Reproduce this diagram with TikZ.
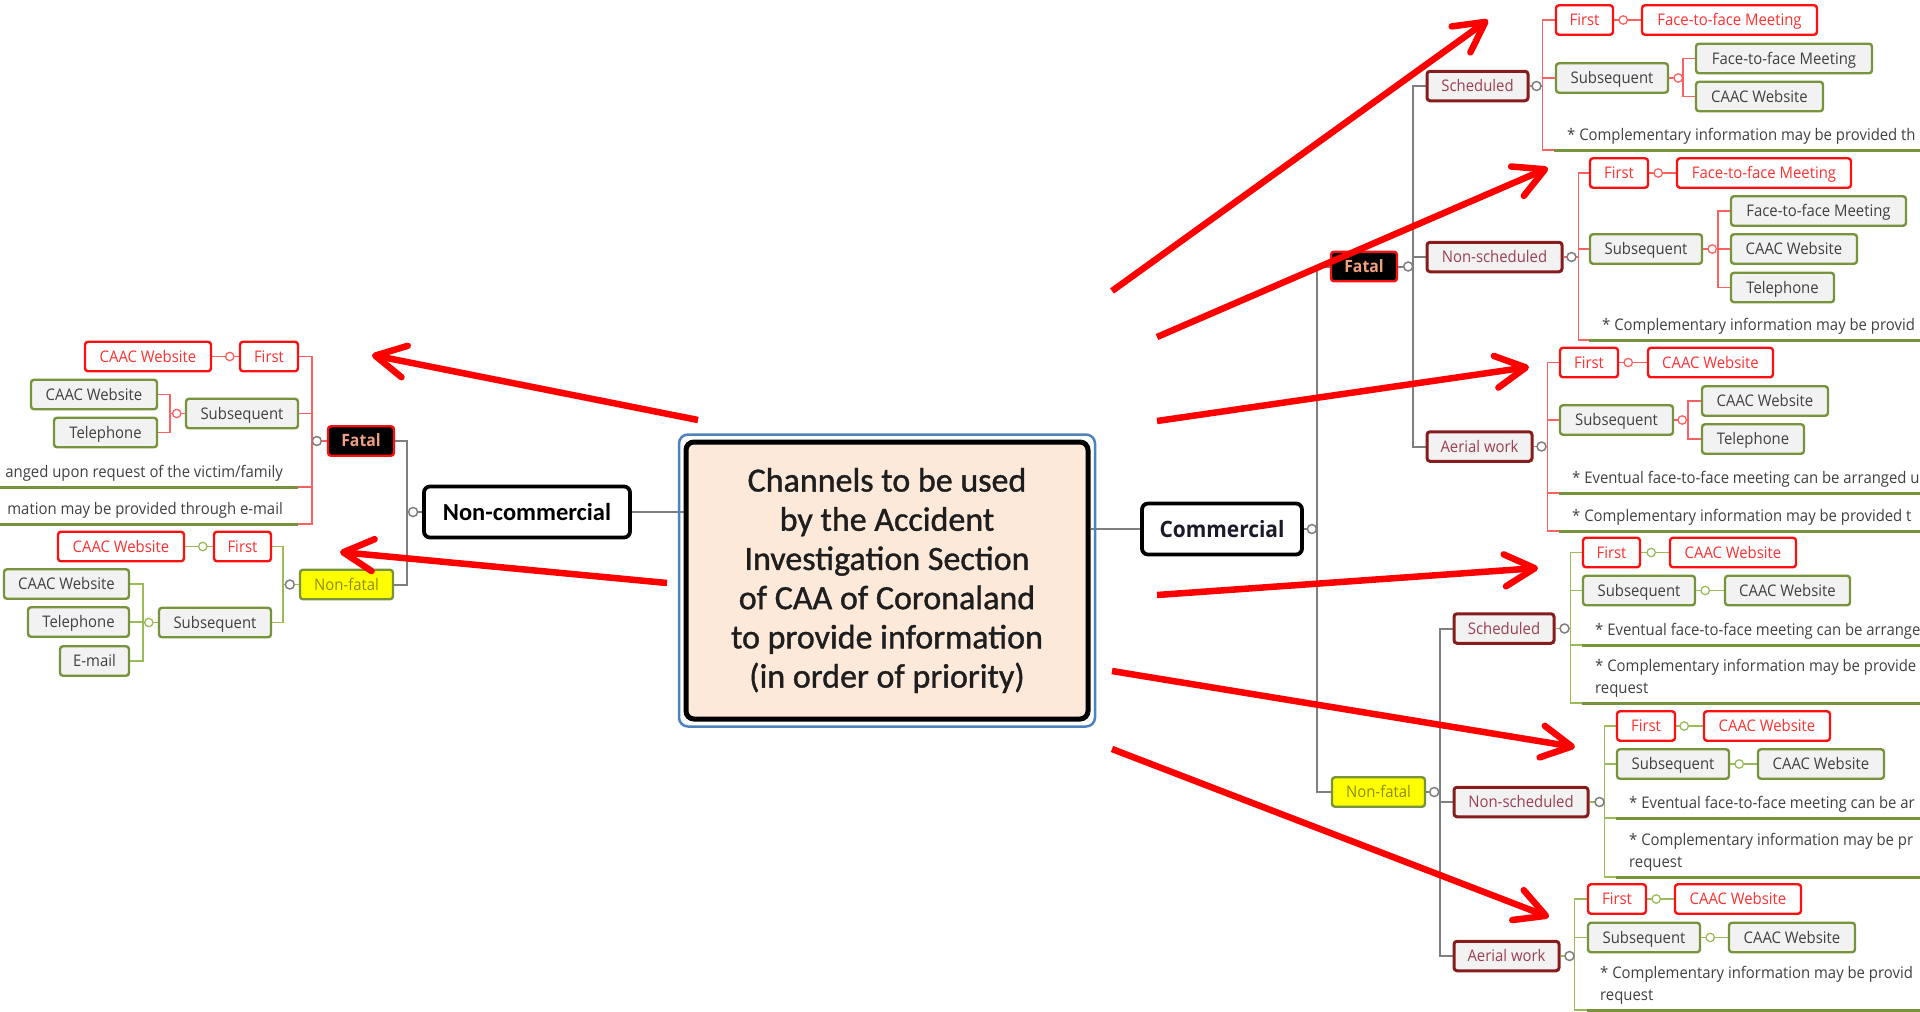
\documentclass[tikz,border=0pt]{standalone}
\usepackage{fontspec}
\setmainfont{Carlito}
\newfontfamily\mainf[FakeBold=1.1]{Carlito}
\newfontfamily\lab[FakeStretch=0.93]{Open Sans}
\usetikzlibrary{arrows.meta}
\definecolor{boxred}{HTML}{FF1010}
\definecolor{txtred}{HTML}{FF3030}
\definecolor{boxgrn}{HTML}{77933C}
\definecolor{boxfill}{HTML}{F2F2F2}
\definecolor{txtgray}{HTML}{404040}
\definecolor{boxbrn}{HTML}{861C1C}
\definecolor{txtbrn}{HTML}{9A3F50}
\definecolor{fataltxt}{HTML}{F0A080}
\definecolor{nftxt}{HTML}{8C8C00}
\definecolor{nffill}{HTML}{FFFF00}
\definecolor{linegray}{HTML}{7F7F7F}
\definecolor{linered}{HTML}{FF6060}
\definecolor{linegrn}{HTML}{9BBB59}
\definecolor{arrred}{HTML}{FF0000}
\definecolor{peach}{HTML}{FDE9D9}
\definecolor{mainblue}{HTML}{4F81BD}
\definecolor{maintxt}{HTML}{1E1E1E}
\definecolor{commtxt}{HTML}{1A1A2A}
\pgfdeclarelayer{bg}
\pgfsetlayers{bg,main}
\tikzset{
 box/.style={rounded corners=3pt, line width=2.4pt, minimum height=29.5pt, inner sep=0pt,
   text height=12pt, text depth=1pt, font=\lab\fontsize{16}{18}\selectfont},
 redbox/.style={box, draw=boxred, fill=white, text=txtred},
 grnbox/.style={box, draw=boxgrn, fill=boxfill, text=txtgray},
 brnbox/.style={box, draw=boxbrn, fill=boxfill, text=txtbrn, line width=3pt},
 fatalbox/.style={box, draw=boxred, fill=black, text=fataltxt, font=\lab\bfseries\fontsize{17}{19}\selectfont},
 nfbox/.style={box, draw=boxgrn, fill=nffill, text=nftxt},
 bigbox/.style={rounded corners=6pt, line width=3.8pt, draw=black, fill=white, minimum height=51pt, inner sep=0pt, text height=16pt, text depth=0pt},
 note/.style={inner xsep=13pt, inner ysep=5.5pt, text height=12pt, text depth=4pt, text=txtgray, font=\lab\fontsize{16}{22}\selectfont},
 notetwo/.style={inner xsep=13pt, inner ysep=5.5pt, text=txtgray, font=\lab\fontsize{16}{22}\selectfont, align=left},
 gline/.style={draw=linegray, line width=2pt},
 rline/.style={draw=linered, line width=1.8pt},
 nline/.style={draw=linegrn, line width=1.8pt},
 uline/.style={draw=boxgrn, line width=3pt},
 circg/.style={draw=linegray, fill=white, line width=1.5pt},
 circr/.style={draw=linered, fill=white, line width=1.3pt},
 circn/.style={draw=linegrn, fill=white, line width=1.3pt},
 bigarrow/.style={draw=arrred, line width=6.5pt, -{Straight Barb[length=30pt,width=32pt,round]}}
}
\begin{document}
\begin{tikzpicture}[x=1pt,y=-1pt]
\useasboundingbox (0,0) rectangle (1920,1012);
\clip (0,0) rectangle (1920,1012);
\coordinate (edgeL) at (-5,0);
\coordinate (edgeR) at (1925,0);

% central topic
\node[draw=mainblue, line width=2.5pt, rounded corners=9pt, minimum width=416pt, minimum height=292pt] (frame) at (887,580.5) {};
\node[draw=black, line width=5pt, fill=peach, rounded corners=8pt, minimum width=402pt, minimum height=277pt,
  align=center, text=maintxt, font=\mainf\fontsize{34}{39.2}\selectfont] (main) at (887,580.5)
  {Channels to be used\\by the Accident\\Investigation Section\\of CAA of Coronaland\\to provide information\\(in order of priority)};

\node[bigbox, minimum width=206pt, font=\bfseries\fontsize{24.5}{28}\selectfont] (NC) at (527,512) {Non-commercial};
\node[bigbox, minimum width=160pt, text=commtxt, font=\lab\bfseries\fontsize{22.5}{26}\selectfont] (C) at (1222,529) {Commercial};

% left side
\node[fatalbox, minimum width=66pt] (LF) at (361,441) {Fatal};
\node[redbox, minimum width=58pt] (LF1) at (269,356.5) {First};
\node[redbox, minimum width=126pt] (LF1c) at (148,356.5) {CAAC Website};
\node[grnbox, minimum width=112pt] (LFs) at (242,413.5) {Subsequent};
\node[grnbox, minimum width=126pt] (LFs1) at (94,394.5) {CAAC Website};
\node[grnbox, minimum width=103pt] (LFs2) at (105.5,432.5) {Telephone};
\node[note, anchor=south east, inner xsep=15pt] (LFn1) at (298,487) {anged upon request of the victim/family};
\node[note, anchor=south east, inner xsep=15pt] (LFn2) at (298,524) {mation may be provided through e-mail};
\node[nfbox, minimum width=93pt] (LN) at (346.5,584.5) {Non-fatal};
\node[redbox, minimum width=57pt] (LN1) at (242.5,546.5) {First};
\node[redbox, minimum width=126pt] (LN1c) at (121,546.5) {CAAC Website};
\node[grnbox, minimum width=112pt] (LNs) at (215,622.5) {Subsequent};
\node[grnbox, minimum width=125pt] (LNs1) at (66.5,584) {CAAC Website};
\node[grnbox, minimum width=101pt] (LNs2) at (78.5,622) {Telephone};
\node[grnbox, minimum width=69pt] (LNs3) at (94.5,661) {E-mail};

% right side, fatal
\node[fatalbox, minimum width=66pt] (RF) at (1364,266.5) {Fatal};
\node[brnbox, minimum width=101pt] (RFa) at (1477.5,86) {Scheduled};
\node[redbox, minimum width=57pt] (RFa1) at (1584.5,20) {First};
\node[redbox, minimum width=175pt] (RFa1c) at (1729.5,20) {Face-to-face Meeting};
\node[grnbox, minimum width=112pt] (RFas) at (1612,78) {Subsequent};
\node[grnbox, minimum width=176pt] (RFas1) at (1784,58.5) {Face-to-face Meeting};
\node[grnbox, minimum width=127pt] (RFas2) at (1759.5,96.5) {CAAC Website};
\node[note, anchor=south west] (RFan) at (1554,150) {* Complementary information may be provided th};
\node[brnbox, minimum width=135pt] (RFb) at (1494.5,257) {Non-scheduled};
\node[redbox, minimum width=58pt] (RFb1) at (1619,173) {First};
\node[redbox, minimum width=174pt] (RFb1c) at (1764,173) {Face-to-face Meeting};
\node[grnbox, minimum width=112pt] (RFbs) at (1646,249) {Subsequent};
\node[grnbox, minimum width=175pt] (RFbs1) at (1818.5,211) {Face-to-face Meeting};
\node[grnbox, minimum width=126pt] (RFbs2) at (1794,249) {CAAC Website};
\node[grnbox, minimum width=103pt] (RFbs3) at (1782.5,287.5) {Telephone};
\node[note, anchor=south west] (RFbn) at (1589,340) {* Complementary information may be provid};
\node[brnbox, minimum width=105pt] (RFc) at (1479.5,446.5) {Aerial work};
\node[redbox, minimum width=58pt] (RFc1) at (1589,362.5) {First};
\node[redbox, minimum width=125pt] (RFc1c) at (1710.5,362.5) {CAAC Website};
\node[grnbox, minimum width=113pt] (RFcs) at (1616.5,420) {Subsequent};
\node[grnbox, minimum width=126pt] (RFcs1) at (1765,401) {CAAC Website};
\node[grnbox, minimum width=102pt] (RFcs2) at (1753,439) {Telephone};
\node[note, anchor=south west] (RFcn1) at (1559,493) {* Eventual face-to-face meeting can be arranged u};
\node[note, anchor=south west] (RFcn2) at (1559,531) {* Complementary information may be provided t};

% right side, non-fatal
\node[nfbox, minimum width=93pt] (RN) at (1378.5,792) {Non-fatal};
\node[brnbox, minimum width=100pt] (RNa) at (1504,628.5) {Scheduled};
\node[redbox, minimum width=57pt] (RNa1) at (1611.5,552.5) {First};
\node[redbox, minimum width=126pt] (RNa1c) at (1733,552.5) {CAAC Website};
\node[grnbox, minimum width=112pt] (RNas) at (1639,590.5) {Subsequent};
\node[grnbox, minimum width=125pt] (RNas1) at (1787.5,590.5) {CAAC Website};
\node[note, anchor=south west] (RNan1) at (1582,645) {* Eventual face-to-face meeting can be arrange};
\node[notetwo, anchor=south west] (RNan2) at (1582,703) {* Complementary information may be provide\\request};
\node[brnbox, minimum width=134pt] (RNb) at (1521,802) {Non-scheduled};
\node[redbox, minimum width=58pt] (RNb1) at (1646,726) {First};
\node[redbox, minimum width=126pt] (RNb1c) at (1767,726) {CAAC Website};
\node[grnbox, minimum width=112pt] (RNbs) at (1673,764) {Subsequent};
\node[grnbox, minimum width=126pt] (RNbs1) at (1821,764) {CAAC Website};
\node[note, anchor=south west] (RNbn1) at (1616,818) {* Eventual face-to-face meeting can be ar};
\node[notetwo, anchor=south west] (RNbn2) at (1616,877) {* Complementary information may be pr\\request};
\node[brnbox, minimum width=105pt] (RNc) at (1506.5,956) {Aerial work};
\node[redbox, minimum width=58pt] (RNc1) at (1617,899) {First};
\node[redbox, minimum width=126pt] (RNc1c) at (1738,899) {CAAC Website};
\node[grnbox, minimum width=112pt] (RNcs) at (1644,937.5) {Subsequent};
\node[grnbox, minimum width=126pt] (RNcs1) at (1792,937.5) {CAAC Website};
\node[notetwo, anchor=south west] (RNcn) at (1587,1010) {* Complementary information may be provid\\request};

% connectors
\begin{pgfonlayer}{bg}
\draw[gline] (NC.east) -- (NC.east -| main.west);
\draw[gline] (C.west) -- (C.west -| main.east);
\foreach \k in {LF,LN} \draw[gline] (NC.west) -- ++(-15,0) |- (\k.east);
\foreach \k in {LF1,LFs} \draw[rline] (LF.west) -- ++(-15,0) |- (\k.east);
\draw[rline] (LF.west) -- ++(-15,0) |- (LFn1.south east);
\draw[rline] (LF.west) -- ++(-15,0) |- (LFn2.south east);
\draw[rline] (LF1.west) -- (LF1c.east);
\foreach \k in {LFs1,LFs2} \draw[rline] (LFs.west) -- ++(-15,0) |- (\k.east);
\draw[uline] (LFn1.south east) -- (LFn1.south east -| edgeL);
\draw[uline] (LFn2.south east) -- (LFn2.south east -| edgeL);
\foreach \k in {LN1,LNs} \draw[nline] (LN.west) -- ++(-16,0) |- (\k.east);
\draw[nline] (LN1.west) -- (LN1c.east);
\foreach \k in {LNs1,LNs2,LNs3} \draw[nline] (LNs.west) -- ++(-15,0) |- (\k.east);

\foreach \k in {RF,RN} \draw[gline] (C.east) -- ++(13,0) |- (\k.west);
\foreach \k in {RFa,RFb,RFc} \draw[gline] (RF.east) -- ++(15,0) |- (\k.west);
\foreach \k in {RNa,RNb,RNc} \draw[gline] (RN.east) -- ++(14,0) |- (\k.west);

\foreach \k in {RFa1,RFas} \draw[rline] (RFa.east) -- ++(13,0) |- (\k.west);
\draw[rline] (RFa.east) -- ++(13,0) |- (RFan.south west);
\draw[rline] (RFa1.east) -- (RFa1c.west);
\foreach \k in {RFas1,RFas2} \draw[rline] (RFas.east) -- ++(14,0) |- (\k.west);
\foreach \k in {RFb1,RFbs} \draw[rline] (RFb.east) -- ++(15,0) |- (\k.west);
\draw[rline] (RFb.east) -- ++(15,0) |- (RFbn.south west);
\draw[rline] (RFb1.east) -- (RFb1c.west);
\foreach \k in {RFbs1,RFbs2,RFbs3} \draw[rline] (RFbs.east) -- ++(15,0) |- (\k.west);
\foreach \k in {RFc1,RFcs} \draw[rline] (RFc.east) -- ++(14,0) |- (\k.west);
\draw[rline] (RFc.east) -- ++(14,0) |- (RFcn1.south west);
\draw[rline] (RFc.east) -- ++(14,0) |- (RFcn2.south west);
\draw[rline] (RFc1.east) -- (RFc1c.west);
\foreach \k in {RFcs1,RFcs2} \draw[rline] (RFcs.east) -- ++(14,0) |- (\k.west);

\foreach \k in {RNa1,RNas} \draw[nline] (RNa.east) -- ++(15,0) |- (\k.west);
\draw[nline] (RNa.east) -- ++(15,0) |- (RNan1.south west);
\draw[nline] (RNa.east) -- ++(15,0) |- (RNan2.south west);
\draw[nline] (RNa1.east) -- (RNa1c.west);
\draw[nline] (RNas.east) -- (RNas1.west);
\foreach \k in {RNb1,RNbs} \draw[nline] (RNb.east) -- ++(15,0) |- (\k.west);
\draw[nline] (RNb.east) -- ++(15,0) |- (RNbn1.south west);
\draw[nline] (RNb.east) -- ++(15,0) |- (RNbn2.south west);
\draw[nline] (RNb1.east) -- (RNb1c.west);
\draw[nline] (RNbs.east) -- (RNbs1.west);
\foreach \k in {RNc1,RNcs} \draw[nline] (RNc.east) -- ++(14,0) |- (\k.west);
\draw[nline] (RNc.east) -- ++(14,0) |- (RNcn.south west);
\draw[nline] (RNc1.east) -- (RNc1c.west);
\draw[nline] (RNcs.east) -- (RNcs1.west);

\foreach \k in {RFan,RFbn,RFcn1,RFcn2,RNan1,RNan2,RNbn1,RNbn2,RNcn}
  \draw[uline] (\k.south west) -- (\k.south west -| edgeR);
\end{pgfonlayer}

% collapse circles
\foreach \n/\d in {C/8,RF/10,RFa/7,RFb/8,RFc/8,RN/8,RNa/9,RNb/10,RNc/9}
  \draw[circg] ([xshift=\d pt]\n.east) circle (4.5);
\foreach \n/\d in {RFa1/9,RFas/9,RFb1/9,RFbs/9,RFc1/9,RFcs/8}
  \draw[circr] ([xshift=\d pt]\n.east) circle (4.2);
\foreach \n/\d in {RNa1/10,RNas/9,RNb1/8,RNbs/9,RNc1/9,RNcs/9}
  \draw[circn] ([xshift=\d pt]\n.east) circle (4.2);
\foreach \n/\d in {NC/9,LF/10,LN/9}
  \draw[circg] ([xshift=-\d pt]\n.west) circle (4.5);
\foreach \n/\d in {LF1/9,LFs/8}
  \draw[circr] ([xshift=-\d pt]\n.west) circle (4.2);
\foreach \n/\d in {LN1/10,LNs/9}
  \draw[circn] ([xshift=-\d pt]\n.west) circle (4.2);

% red arrows
\coordinate (a1s) at (1112,291); \coordinate (a1t) at (1488,20);
\coordinate (a2s) at (1157,337); \coordinate (a2t) at (1548,168);
\coordinate (a3s) at (1157,421); \coordinate (a3t) at (1529,367);
\coordinate (a4s) at (1157,595); \coordinate (a4t) at (1538,568);
\coordinate (a5s) at (1112,671); \coordinate (a5t) at (1575,747);
\coordinate (a6s) at (1112,749); \coordinate (a6t) at (1549,917);
\coordinate (b1s) at (698,420); \coordinate (b1t) at (372,355);
\coordinate (b2s) at (667,583); \coordinate (b2t) at (340,552);
\foreach \p in {a1,a2,a3,a4,a5,a6,b1,b2}
  \draw[bigarrow] (\p s) -- (\p t);
\end{tikzpicture}
\end{document}
